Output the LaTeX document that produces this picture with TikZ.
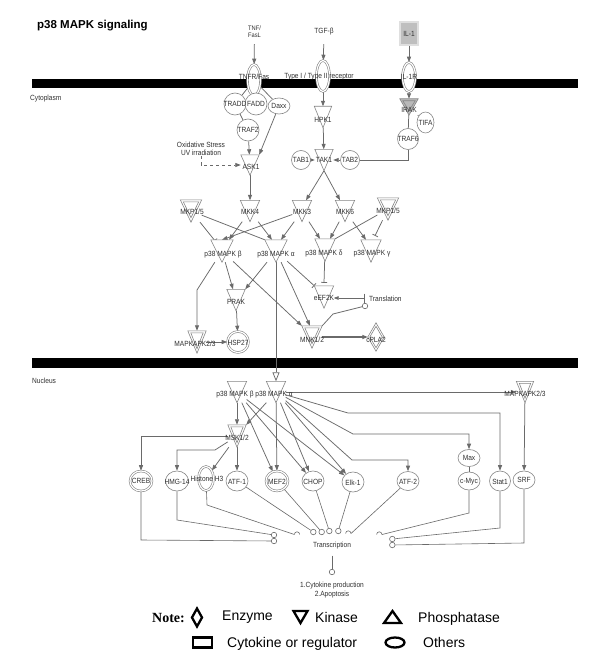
\documentclass[tikz,border=0pt]{standalone}
\usepackage{fontspec}
\setmainfont{Liberation Sans}
\newfontfamily\labf[FakeStretch=0.88]{Liberation Sans}
\newfontfamily\serifb{Liberation Serif}
\usetikzlibrary{arrows.meta,shapes.geometric}
\pgfdeclarelayer{bg}\pgfdeclarelayer{fg}\pgfsetlayers{bg,main,fg}
\definecolor{ncol}{HTML}{858585}
\definecolor{ecol}{HTML}{6A6A6A}
\definecolor{tcol}{HTML}{303030}
\tikzset{
  xedge/.style={draw=ecol,line width=0.75pt},
  xln/.style={xedge},
  xact/.style={xedge,-{Triangle[length=5.5pt,width=4pt]}},
  xinh/.style={xedge,-{Bar[width=6pt,line width=0.75pt]}},
  xopn/.style={xedge,-{Triangle[open,length=9pt,width=7pt,fill=white]}},
  xsc/.style={circle,draw=ecol,line width=0.6pt,fill=white,minimum size=5.5pt,inner sep=0},
  xlab/.style={text=tcol,font=\labf\fontsize{7.5}{8.5}\selectfont,inner sep=0,align=center},
  xoval/.style={ellipse,draw=ncol,fill=white,line width=0.6pt,inner sep=0},
  xbox/.style={rectangle,draw=ncol,fill=white,line width=0.6pt,inner sep=0},
  xdbl/.style={double=white,double distance=1.2pt},
  xkbox/.style={rectangle,inner sep=0},
  xtri/.style={draw=ncol,fill=white,line width=0.6pt,line join=miter},
  xleg/.style={draw=black,line width=2.3pt,line join=miter},
  xlegt/.style={font=\fontsize{14}{16}\selectfont,inner sep=0,anchor=base west},
}
\newcommand\kin[5][]{%
  \node[xkbox,minimum width=#4,minimum height=#5] (#2) at (#3) {};
  \draw[xtri,#1] (#2.north west) -- (#2.north east) -- (#2.south) -- cycle;}
\newcommand\kinD[5][]{%
  \kin[#1]{#2}{#3}{#4}{#5}%
  \draw[xtri,#1] ([shift={(3,2)}]#2.north west) -- ([shift={(-3,2)}]#2.north east) -- ([shift={(0,-4.5)}]#2.south) -- cycle;}
\newcommand\diaD[5][]{%
  \node[xkbox,minimum width=#4,minimum height=#5] (#2) at (#3) {};
  \draw[xtri,#1] (#2.north) -- (#2.east) -- (#2.south) -- (#2.west) -- cycle;
  \draw[xtri,#1] ([shift={(0,3.5)}]#2.north) -- ([shift={(-2,0)}]#2.east) -- ([shift={(0,-3.5)}]#2.south) -- ([shift={(2,0)}]#2.west) -- cycle;}
\newcommand\Lab[4][]{\begin{pgfonlayer}{fg}\node[xlab,#1] (#2) at (#3) {#4};\end{pgfonlayer}}
\begin{document}
\begin{tikzpicture}[x=1pt,y=-1pt]
\useasboundingbox (0,0) rectangle (600,658);
\begin{pgfonlayer}{bg}
\fill[white] (0,0) rectangle (600,658);
\fill[black] (32,79) rectangle (578,88);
\fill[black] (32,358) rectangle (578,368);
\end{pgfonlayer}
\node[anchor=base west,inner sep=0,font=\bfseries\fontsize{11.5}{13}\selectfont] (title) at (37,29) {p38 MAPK signaling};
\Lab[anchor=west]{cyto}{30,99}{Cytoplasm}
\Lab[anchor=west]{nucl}{32,381}{Nucleus}

% ---- top: ligands and receptors
\node[xbox,xdbl,minimum width=17,minimum height=22] (tnfl) at (254.5,32) {};
\node[xbox,xdbl,minimum width=18,minimum height=23] (tgfb) at (324,31.5) {};
\node[xbox,xdbl,fill=gray!50,double=gray!25,minimum width=18,minimum height=23] (il1) at (409,33.5) {};
\node[xoval,xdbl,minimum width=13,minimum height=31] (tnfr) at (254,80) {};
\node[xoval,xdbl,minimum width=13,minimum height=31] (tgfr) at (323,76) {};
\node[xoval,xdbl,minimum width=13,minimum height=29] (il1r) at (409,77) {};
\node[xoval,minimum size=22] (tradd) at (235,104) {};
\node[xoval,minimum size=22] (fadd) at (256,104) {};
\node[xoval,minimum width=22,minimum height=16] (daxx) at (279,106) {};
\node[xoval,minimum size=22] (traf2) at (248,130) {};
\kin{ask1}{250,165}{18}{20}
\kin{hpk1}{323,117}{17}{21}
\kin{tak1}{324,160}{18}{21}
\node[xoval,minimum size=19] (tab1) at (301,160) {};
\node[xoval,minimum size=19] (tab2) at (350,160) {};
\kinD[fill=gray!55]{irak}{409,107}{18}{16}
\node[xoval,minimum width=17,minimum height=21] (tifa) at (425.5,122.5) {};
\node[xoval,minimum size=21] (traf6) at (408,139) {};

% ---- MKK row
\kinD{mkp1}{191,211}{21}{22}
\kin{mkk4}{250,211}{19}{21}
\kin{mkk3}{302,211}{19}{21}
\kin{mkk6}{345,211}{19}{21}
\kinD{mkp2}{388,209}{21}{22}
% ---- p38 row
\kin{p38b}{222,251}{22}{22}
\kin{p38a}{276,251}{22}{22}
\kin{p38d}{325,250}{20}{22}
\kin{p38g}{371,251}{20}{22}
\kin{prak}{236,300}{18}{21}
\kin{eef2k}{324,297}{19}{22}
\kinD{mk23}{197,342}{18}{22}
\node[xoval,xdbl,minimum size=21] (hsp27) at (238,342) {};
\kinD{mnk}{312,337}{20}{22}
\diaD{cpla}{376,337}{16}{28}
\node[xsc] (c0) at (365,306) {};
\coordinate (tb) at (365,298);

% ---- nucleus
\kin{p38bn}{237,392}{19}{21}
\kin{p38an}{276,392}{19}{21}
\kinD{mk23n}{525,392}{17}{21}
\kinD{msk}{237,436}{18}{22}
\node[xoval,xdbl,minimum width=22,minimum height=20] (creb) at (141,481) {};
\node[xoval,minimum width=23,minimum height=20] (hmg) at (177,481) {};
\node[xoval,xdbl,minimum width=15,minimum height=24] (hist) at (206,478.5) {};
\node[xoval,minimum width=22,minimum height=20] (atf1) at (237,481) {};
\node[xoval,xdbl,minimum width=22,minimum height=20] (mef2) at (277,481) {};
\node[xoval,minimum width=22,minimum height=20] (chop) at (313,481) {};
\node[xoval,minimum width=22,minimum height=20] (elk1) at (353,482) {};
\node[xoval,minimum width=22,minimum height=19] (atf2) at (408,481) {};
\node[xoval,minimum width=22,minimum height=17] (max) at (469,458) {};
\node[xoval,minimum width=22,minimum height=18] (cmyc) at (469,481) {};
\node[xoval,minimum width=21,minimum height=20] (stat1) at (500,481) {};
\node[xoval,minimum width=22,minimum height=18] (srf) at (524,480) {};

% ---- transcription terminals
\node[xsc] (ca) at (274,535) {};
\node[xsc] (cb) at (274,541) {};
\node[xsc] (c1) at (313.3,532) {};
\node[xsc] (c2) at (321.7,532) {};
\node[xsc] (c3) at (329.3,531) {};
\node[xsc] (c4) at (338.3,531) {};
\node[xsc] (cs1) at (392.3,539) {};
\node[xsc] (cs2) at (392.3,545) {};
\node[xsc] (ct) at (332,572) {};
\coordinate (h1) at (297,534.5);
\coordinate (h2) at (348.3,533.5);
\coordinate (h3) at (379.3,534.5);
\coordinate (h1w) at (294.3,534.5);
\coordinate (h2e) at (351,533.5);
\coordinate (h3e) at (382,534.5);
\draw[xedge,line width=0.6pt] (h1w) arc[start angle=180,end angle=0,radius=2.7pt];
\draw[xedge,line width=0.6pt] ([xshift=-2.7pt]h2) arc[start angle=180,end angle=0,radius=2.7pt];
\draw[xedge,line width=0.6pt] ([xshift=-2.7pt]h3) arc[start angle=180,end angle=0,radius=2.7pt];

% ---- labels
\Lab[font=\labf\fontsize{6.5}{7}\selectfont]{tnflT}{254.5,32}{TNF/\\FasL}
\Lab{tgfbT}{324,32}{TGF-β}
\Lab{il1T}{409,34}{IL-1}
\Lab{tnfrT}{254,77}{TNFR/Fas}
\Lab{tgfrT}{319,77}{Type I / Type II receptor}
\Lab{il1rT}{409,77}{IL-1R}
\Lab{traddT}{235,104}{TRADD}
\Lab{faddT}{256,104}{FADD}
\Lab{daxxT}{279,106}{Daxx}
\Lab{traf2T}{248,130}{TRAF2}
\Lab{ask1T}{251,167}{ASK1}
\Lab{ox}{201,149}{Oxidative Stress\\UV irradiation}
\Lab{hpk1T}{323,120}{HPK1}
\Lab{tak1T}{324,160}{TAK1}
\Lab{tab1T}{301,160}{TAB1}
\Lab{tab2T}{350,160}{TAB2}
\Lab{irakT}{409,110}{IRAK}
\Lab{tifaT}{425.5,122.5}{TIFA}
\Lab{traf6T}{408,139}{TRAF6}
\Lab{mkp1T}{192,212}{MKP1/5}
\Lab{mkk4T}{250,212}{MKK4}
\Lab{mkk3T}{302,212}{MKK3}
\Lab{mkk6T}{345,212}{MKK6}
\Lab{mkp2T}{388,211}{MKP1/5}
\Lab{p38bT}{223,255}{p38 MAPK β}
\Lab{p38aT}{276,255}{p38 MAPK α}
\Lab{p38dT}{324,254}{p38 MAPK δ}
\Lab{p38gT}{372,254}{p38 MAPK γ}
\Lab{prakT}{236,302}{PRAK}
\Lab{eef2kT}{324,298}{eEF2K}
\Lab[anchor=west]{transl}{369,299}{Translation}
\Lab{mk23T}{195,344}{MAPKAPK2/3}
\Lab{hsp27T}{238,343}{HSP27}
\Lab{mnkT}{312,340}{MNK1/2}
\Lab{cplaT}{376,340}{cPLA2}
\Lab{p38bnT}{235,395}{p38 MAPK β}
\Lab{p38anT}{274,395}{p38 MAPK α}
\Lab{mk23nT}{525,394}{MAPKAPK2/3}
\Lab{mskT}{237,438}{MSK1/2}
\Lab{crebT}{141,481}{CREB}
\Lab{hmgT}{177,482}{HMG-14}
\Lab{histT}{207,479}{Histone H3}
\Lab{atf1T}{237,482}{ATF-1}
\Lab{mef2T}{277,482}{MEF2}
\Lab{chopT}{313,482}{CHOP}
\Lab{elk1T}{353,483}{Elk-1}
\Lab{atf2T}{408,482}{ATF-2}
\Lab{maxT}{469,458}{Max}
\Lab{cmycT}{469,482}{c-Myc}
\Lab{stat1T}{500,482}{Stat1}
\Lab{srfT}{524,480}{SRF}
\Lab{trans}{332,546}{Transcription}
\Lab[font=\labf\fontsize{7.5}{9}\selectfont]{outc}{332,590}{1.Cytokine production\\2.Apoptosis}

% ---- connectors
\begin{pgfonlayer}{bg}
\draw[xact] (tnfl) -- (tnfr);
\draw[xact] (tgfb) -- (tgfr);
\draw[xact] (il1) -- (il1r);
\draw[xln] (tnfr) -- (tradd);
\draw[xln] (tnfr) -- (daxx);
\draw[xln] (tnfr) -- (fadd);
\draw[xln] (tradd) -- (traf2);
\draw[xact] (traf2) -- (ask1);
\draw[xact] (daxx) -- (ask1.north east);
\draw[xact,dashed] (ox.south) |- (ask1.west);
\draw[xact] (tgfr) -- (hpk1);
\draw[xact] (hpk1) -- (tak1);
\draw[xact] (tab1) -- (tak1);
\draw[xact] (tab2) -- (tak1);
\draw[xact] (il1r) -- (irak);
\draw[xln] (irak) -- (tifa);
\draw[xln] (irak) -- (traf6);
\draw[xln] (traf6.south) |- (tab2.east);
\draw[xact] (ask1) -- (mkk4);
\draw[xact] (tak1.south) -- ([xshift=4pt]mkk3.north);
\draw[xact] (tak1.south) -- ([xshift=-5pt]mkk6.north);
\draw[xinh] (mkp1) -- ([xshift=-7pt,yshift=-1pt]p38b.north);
\draw[xln] (mkp1) -- (p38a.north west);
\draw[xact] (mkk4) -- ([xshift=7pt]p38b.north);
\draw[xact] (mkk4) -- ([xshift=-4pt]p38a.north);
\draw[xact] (mkk3) -- (p38b.north);
\draw[xact] (mkk3) -- ([xshift=5pt]p38a.north);
\draw[xact] (mkk3) -- ([xshift=-5pt]p38d.north);
\draw[xact] (mkk6) -- ([xshift=5pt]p38d.north);
\draw[xact] (mkk6) -- ([xshift=-5pt]p38g.north);
\draw[xln] (mkp2) -- (p38d.north east);
\draw[xinh] (mkp2) -- ([xshift=4pt,yshift=4pt]p38g.north);
\draw[xinh] (p38d) -- ([yshift=3pt]eef2k.north);
\draw[xinh] (p38a) -- (eef2k.north west);
\draw[xact] (p38b) -- ([xshift=-3pt]prak.north);
\draw[xact] (p38a) -- (prak.north east);
\draw[xact] (p38b) -- (197,290) -- (mk23);
\draw[xact] (p38b) -- (mnk.north west);
\draw[xact] (p38a) -- ([xshift=-2pt]mnk.north);
\draw[xact] (prak) -- (hsp27);
\draw[xact] (mk23) -- (hsp27);
\draw[xact,line width=1.2pt] (mnk) -- (cpla);
\draw[xln] (mnk.north east) -- (333,314) -- (c0);
\draw[xedge,{Triangle[length=5pt,width=3.6pt]}-{Bar[width=9pt,line width=0.75pt]}] (eef2k.east |- tb) -- (tb);
\draw[xopn] (p38a) -- (p38an);
\draw[xact] (p38bn) -- (msk);
\draw[xact] (p38an) -- (msk.north east);
\draw[xact] (p38an) -- (mk23n);
\draw[xact] (mk23n) -- (srf);
\draw[xact] (msk.west) -| (creb);
\draw[xact] (msk) -- (215,450) -| (hmg);
\draw[xact] (msk) -- (hist);
\draw[xact] (msk) -- (atf1);
\draw[xact] (p38bn) -- (mef2);
\draw[xact] (p38an) -- (mef2);
\draw[xact] (p38bn) -- (chop);
\draw[xact] (p38an) -- (chop);
\draw[xact] (p38bn) -- (elk1);
\draw[xact] (p38an) -- (elk1);
\draw[xact] (p38an) -- (352,460) -| (atf2);
\draw[xact] (p38an) -- (353,434) -| (max);
\draw[xact] (p38an) -- (348,413) -| (stat1);
\draw[xln] (max) -- (cmyc);
\draw[xln,line width=0.6pt] (creb) -- (141,540) -- (cb);
\draw[xln,line width=0.6pt] (hmg) -- (177,520) -- (ca);
\draw[xln,line width=0.6pt] (hist) -- (207,505) -- (h1w);
\draw[xln,line width=0.6pt] (atf1) -- (c1);
\draw[xln,line width=0.6pt] (mef2) -- (c2);
\draw[xln,line width=0.6pt] (chop) -- (c3);
\draw[xln,line width=0.6pt] (elk1) -- (c4);
\draw[xln,line width=0.6pt] (atf2) -- (h2e);
\draw[xln,line width=0.6pt] (cmyc) -- (469,513) -- (h3e);
\draw[xln,line width=0.6pt] (stat1) -- (500,528) -- (cs1);
\draw[xln,line width=0.6pt] (srf) -- (524,543) -- (cs2);
\draw[xln,line width=0.6pt] ([yshift=-6pt]trans.south) -- (ct);
\end{pgfonlayer}

% ---- legend
\node[anchor=base west,inner sep=0,font=\serifb\bfseries\fontsize{14}{16}\selectfont] (note) at (152,622) {Note:};
\draw[xleg] (197,608.5) -- (202,617.5) -- (197,626.5) -- (192,617.5) -- cycle;
\node[xlegt] (lenz) at (222,620) {Enzyme};
\draw[xleg] (293.5,611) -- (307.5,611) -- (300.5,623) -- cycle;
\node[xlegt] (lkin) at (315,622) {Kinase};
\draw[xleg] (384,623) -- (401,623) -- (392.5,611) -- cycle;
\node[xlegt] (lpho) at (418,622) {Phosphatase};
\draw[xleg] (193,637.5) rectangle (212,647.5);
\node[xlegt] (lcyt) at (227,647) {Cytokine or regulator};
\draw[xleg] (395,642.5) ellipse [x radius=9.5pt,y radius=5pt];
\node[xlegt] (loth) at (423,647) {Others};
\end{tikzpicture}
\end{document}
